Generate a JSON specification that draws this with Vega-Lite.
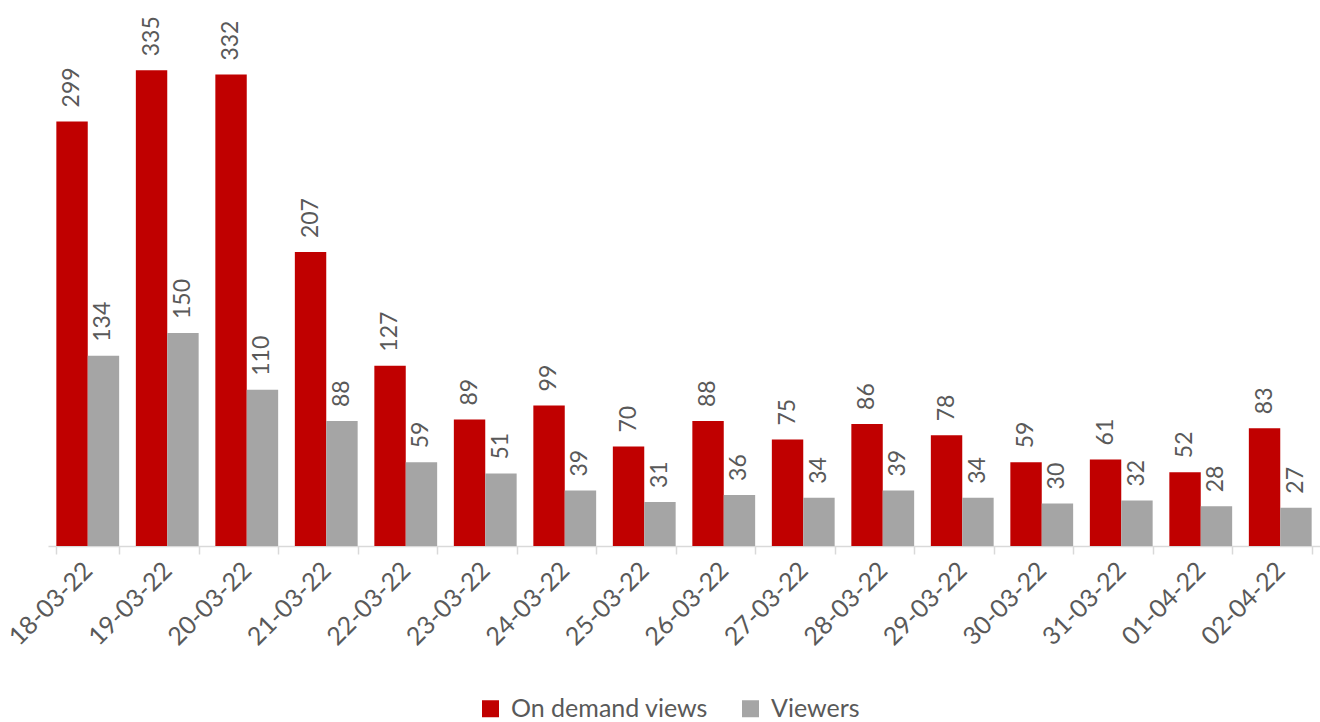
{
  "$schema": "https://vega.github.io/schema/vega-lite/v6.json",
  "width": 1272,
  "height": 497,
  "autosize": {"type": "none"},
  "padding": {"left": 48, "top": 49, "right": 0, "bottom": 176},
  "background": "white",
  "config": {
    "view": {"stroke": null},
    "font": "Lato",
    "text": {"font": "Lato"}
  },
  "data": {
    "values": [
      {"date": "18-03-22", "series": "On demand views", "value": 299},
      {"date": "18-03-22", "series": "Viewers", "value": 134},
      {"date": "19-03-22", "series": "On demand views", "value": 335},
      {"date": "19-03-22", "series": "Viewers", "value": 150},
      {"date": "20-03-22", "series": "On demand views", "value": 332},
      {"date": "20-03-22", "series": "Viewers", "value": 110},
      {"date": "21-03-22", "series": "On demand views", "value": 207},
      {"date": "21-03-22", "series": "Viewers", "value": 88},
      {"date": "22-03-22", "series": "On demand views", "value": 127},
      {"date": "22-03-22", "series": "Viewers", "value": 59},
      {"date": "23-03-22", "series": "On demand views", "value": 89},
      {"date": "23-03-22", "series": "Viewers", "value": 51},
      {"date": "24-03-22", "series": "On demand views", "value": 99},
      {"date": "24-03-22", "series": "Viewers", "value": 39},
      {"date": "25-03-22", "series": "On demand views", "value": 70},
      {"date": "25-03-22", "series": "Viewers", "value": 31},
      {"date": "26-03-22", "series": "On demand views", "value": 88},
      {"date": "26-03-22", "series": "Viewers", "value": 36},
      {"date": "27-03-22", "series": "On demand views", "value": 75},
      {"date": "27-03-22", "series": "Viewers", "value": 34},
      {"date": "28-03-22", "series": "On demand views", "value": 86},
      {"date": "28-03-22", "series": "Viewers", "value": 39},
      {"date": "29-03-22", "series": "On demand views", "value": 78},
      {"date": "29-03-22", "series": "Viewers", "value": 34},
      {"date": "30-03-22", "series": "On demand views", "value": 59},
      {"date": "30-03-22", "series": "Viewers", "value": 30},
      {"date": "31-03-22", "series": "On demand views", "value": 61},
      {"date": "31-03-22", "series": "Viewers", "value": 32},
      {"date": "01-04-22", "series": "On demand views", "value": 52},
      {"date": "01-04-22", "series": "Viewers", "value": 28},
      {"date": "02-04-22", "series": "On demand views", "value": 83},
      {"date": "02-04-22", "series": "Viewers", "value": 27}
    ]
  },
  "encoding": {
    "x": {
      "field": "date",
      "type": "nominal",
      "sort": null,
      "scale": {"paddingInner": 0.21, "paddingOuter": 0.105},
      "axis": {
        "title": null,
        "labelAngle": -45,
        "labelAlign": "right",
        "labelBaseline": "middle",
        "labelFont": "Lato",
        "labelFontSize": 25,
        "labelColor": "#595959",
        "labelPadding": 12,
        "domainColor": "#D9D9D9",
        "domainWidth": 1.5,
        "tickColor": "#D9D9D9",
        "tickWidth": 1.5,
        "tickSize": 8,
        "tickBand": "extent"
      }
    },
    "xOffset": {"field": "series", "type": "nominal", "scale": {"paddingInner": 0, "paddingOuter": 0}},
    "y": {
      "field": "value",
      "type": "quantitative",
      "scale": {"domain": [0, 350], "nice": false},
      "axis": null
    }
  },
  "layer": [
    {
      "mark": {"type": "bar"},
      "encoding": {
        "color": {
          "field": "series",
          "type": "nominal",
          "scale": {"domain": ["On demand views", "Viewers"], "range": ["#C00000", "#A5A5A5"]},
          "legend": {
            "title": null,
            "orient": "none",
            "legendX": 430,
            "legendY": 647,
            "direction": "horizontal",
            "symbolType": "square",
            "symbolSize": 289,
            "symbolStrokeWidth": 0,
            "labelFont": "Lato",
            "labelFontSize": 25,
            "labelColor": "#595959",
            "labelOffset": 8,
            "labelLimit": 0,
            "columnPadding": 30
          }
        }
      }
    },
    {
      "mark": {"type": "text", "angle": -90, "align": "left", "baseline": "middle", "dx": 14, "fontSize": 23, "color": "#595959", "font": "Lato"},
      "encoding": {
        "text": {"field": "value", "type": "quantitative"}
      }
    }
  ]
}
